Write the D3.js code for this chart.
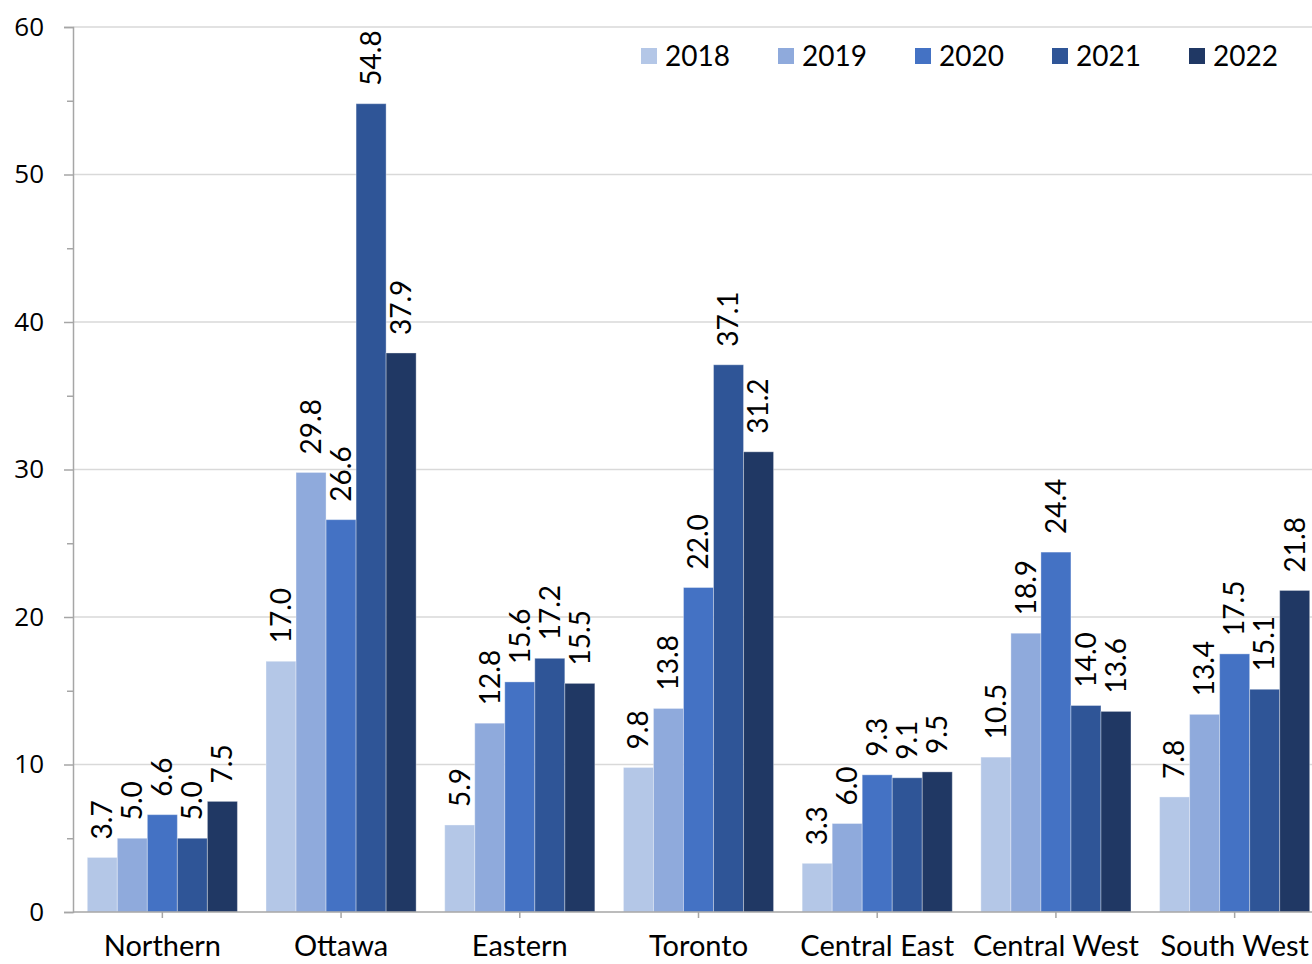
<!DOCTYPE html>
<html>
<head>
<meta charset="utf-8">
<script src="https://cdn.jsdelivr.net/npm/d3@7"></script>
<style>
  body { margin: 0; background: #fff; }
  svg { display: block; font-family: Lato, "Open Sans", sans-serif; }
</style>
</head>
<body>
<div class="chart"></div>
<script>
// chart data
const regions = ['Northern', 'Ottawa', 'Eastern', 'Toronto', 'Central East', 'Central West', 'South West'];
const years = ['2018', '2019', '2020', '2021', '2022'];
const v2018 = [3.7, 17.0, 5.9, 9.8, 3.3, 10.5, 7.8];
const v2019 = [5.0, 29.8, 12.8, 13.8, 6.0, 18.9, 13.4];
const v2020 = [6.6, 26.6, 15.6, 22.0, 9.3, 24.4, 17.5];
const v2021 = [5.0, 54.8, 17.2, 37.1, 9.1, 14.0, 15.1];
const v2022 = [7.5, 37.9, 15.5, 31.2, 9.5, 13.6, 21.8];
const yTicks = [0, 10, 20, 30, 40, 50, 60];
const colors = ['#b4c7e7', '#8faadc', '#4472c4', '#2f5597', '#203864'];

const series = [v2018, v2019, v2020, v2021, v2022];

// svg parameters
const w = 1312;
const h = 964;
const padLeft = 73;
const padRight = 1324; // plot runs past the picture edge
const padTop = 27;
const padBottom = 912;

const svg = d3.select('.chart')
  .append('svg')
  .attr('width', w)
  .attr('height', h);

// scales
const x0 = d3.scaleBand().domain(regions).range([padLeft, padRight]).paddingInner(0.16).paddingOuter(0.08);
const x1 = d3.scaleBand().domain(years).range([0, x0.bandwidth()]);
const y = d3.scaleLinear().domain([0, 60]).range([padBottom, padTop]);
const color = d3.scaleOrdinal(years, colors);

// gridlines
svg.append('g')
  .selectAll('line')
  .data(yTicks.filter((d) => d > 0))
  .enter()
  .append('line')
  .attr('x1', padLeft)
  .attr('x2', w)
  .attr('y1', (d) => y(d))
  .attr('y2', (d) => y(d))
  .attr('stroke', '#d9d9d9')
  .attr('stroke-width', 1.5);

// y axis (major + minor ticks)
const yAxis = d3.axisLeft(y).tickValues(yTicks).tickSize(9).tickPadding(20);
const yg = svg.append('g')
  .attr('transform', `translate(${padLeft},0)`)
  .call(yAxis);
yg.select('.domain').attr('stroke', '#a6a6a6').attr('stroke-width', 1.5);
yg.selectAll('.tick line').attr('stroke', '#a6a6a6').attr('stroke-width', 1.5);
yg.selectAll('.tick text')
  .attr('fill', '#000')
  .style('font-size', '26px')
  .style('font-family', '"Open Sans", sans-serif');

const minorAxis = d3.axisLeft(y).tickValues([5, 15, 25, 35, 45, 55]).tickSize(6).tickFormat('');
const mg = svg.append('g')
  .attr('transform', `translate(${padLeft},0)`)
  .call(minorAxis);
mg.select('.domain').remove();
mg.selectAll('.tick line').attr('stroke', '#a6a6a6').attr('stroke-width', 1.5);

// bars
const groups = svg.append('g')
  .selectAll('g')
  .data(regions)
  .enter()
  .append('g')
  .attr('transform', (d) => `translate(${x0(d)},0)`);

groups.selectAll('rect')
  .data((d, i) => years.map((yr, j) => ({ yr, v: series[j][i] })))
  .enter()
  .append('rect')
  .attr('x', (d) => x1(d.yr))
  .attr('y', (d) => y(d.v))
  .attr('width', x1.bandwidth())
  .attr('height', (d) => y(0) - y(d.v))
  .attr('fill', (d) => color(d.yr))
  .attr('stroke', 'rgba(255,255,255,0.35)')
  .attr('stroke-width', 1);

// data labels
groups.selectAll('text')
  .data((d, i) => years.map((yr, j) => ({ yr, v: series[j][i] })))
  .enter()
  .append('text')
  .attr('transform', (d) => `translate(${x1(d.yr) + x1.bandwidth() / 2},${y(d.v) - 18}) rotate(-90)`)
  .attr('dy', '0.35em')
  .style('font-size', '28px')
  .attr('fill', '#000')
  .text((d) => d.v.toFixed(1));

// x axis
const xAxis = d3.axisBottom(x0).tickSize(6).tickPadding(17);
const xg = svg.append('g')
  .attr('transform', `translate(0,${padBottom})`)
  .call(xAxis);
xg.select('.domain').attr('stroke', '#a6a6a6').attr('stroke-width', 1.5)
  .attr('d', `M${padLeft},0H${padRight}`);
xg.selectAll('.tick line').attr('stroke', '#a6a6a6').attr('stroke-width', 1.5);
xg.selectAll('.tick text')
  .attr('fill', '#000')
  .style('font-size', '29px')
  .style('font-family', 'Lato, sans-serif');

// legend
const legend = svg.append('g').attr('id', 'legend');
const items = legend.selectAll('g')
  .data(years)
  .enter()
  .append('g')
  .attr('transform', (d, i) => `translate(${641 + i * 137},56)`);
items.append('rect')
  .attr('x', 0)
  .attr('y', -8)
  .attr('width', 16)
  .attr('height', 16)
  .attr('fill', (d) => color(d));
items.append('text')
  .attr('x', 24)
  .attr('dy', '0.36em')
  .style('font-size', '28px')
  .attr('fill', '#000')
  .text((d) => d);
</script>
</body>
</html>
